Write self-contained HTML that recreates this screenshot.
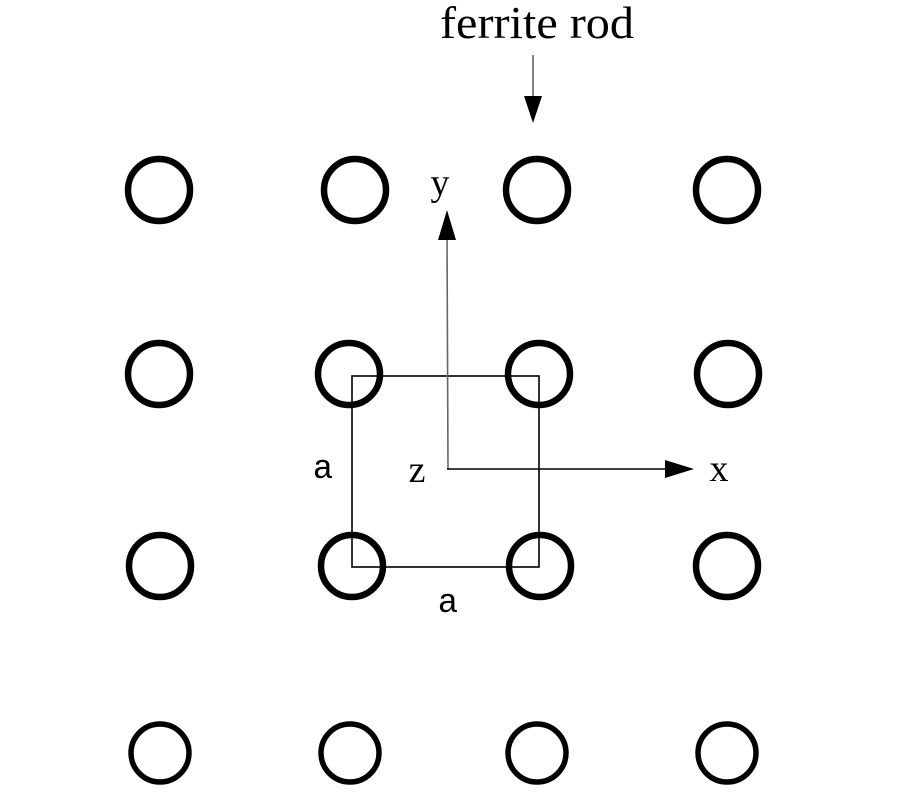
<!DOCTYPE html>
<html><head><style>html,body{margin:0;padding:0;background:#fff;}</style></head>
<body>
<svg width="900" height="800" xmlns="http://www.w3.org/2000/svg">
<g fill="none" stroke="#000" stroke-width="6.5">
<circle cx="159" cy="190" r="31"/><circle cx="355" cy="190" r="31"/><circle cx="537" cy="190" r="31"/><circle cx="727" cy="190" r="31"/>
<circle cx="159" cy="374" r="31"/><circle cx="349" cy="374" r="31"/><circle cx="539" cy="374" r="31"/><circle cx="728" cy="374" r="31"/>
<circle cx="160" cy="566" r="31"/><circle cx="352" cy="566" r="31"/><circle cx="540" cy="566" r="31"/><circle cx="727" cy="566" r="31"/>
</g>
<g fill="none" stroke="#000" stroke-width="5.5">
<circle cx="160" cy="753" r="29"/><circle cx="350" cy="753" r="29"/><circle cx="537" cy="753" r="29"/><circle cx="727" cy="753" r="29"/>
</g>
<rect x="352" y="376" width="187" height="191" fill="none" stroke="#000" stroke-width="1.6"/>
<line x1="447" y1="235" x2="448" y2="469" stroke="#666" stroke-width="1.6"/>
<polygon points="447,210 438,240 456,240" fill="#000"/>
<line x1="447" y1="469" x2="670" y2="469" stroke="#000" stroke-width="1.6"/>
<polygon points="694,469 665,460 665,478" fill="#000"/>
<line x1="533" y1="55" x2="533" y2="100" stroke="#666" stroke-width="1.6"/>
<polygon points="533,123 524,96 542,96" fill="#000"/>
<g font-family="Liberation Serif, serif" fill="#000">
<text x="537" y="38" font-size="46" text-anchor="middle" textLength="194" lengthAdjust="spacingAndGlyphs">ferrite rod</text>
<text x="440" y="195" font-size="38" text-anchor="middle">y</text>
<text x="719" y="481" font-size="38" text-anchor="middle">x</text>
<text x="417" y="482" font-size="38" text-anchor="middle">z</text>
</g>
<g font-family="Liberation Mono, monospace" fill="#000">
<text x="323" y="478" font-size="34" text-anchor="middle">a</text>
<text x="448" y="612" font-size="34" text-anchor="middle">a</text>
</g>
</svg>
</body></html>
